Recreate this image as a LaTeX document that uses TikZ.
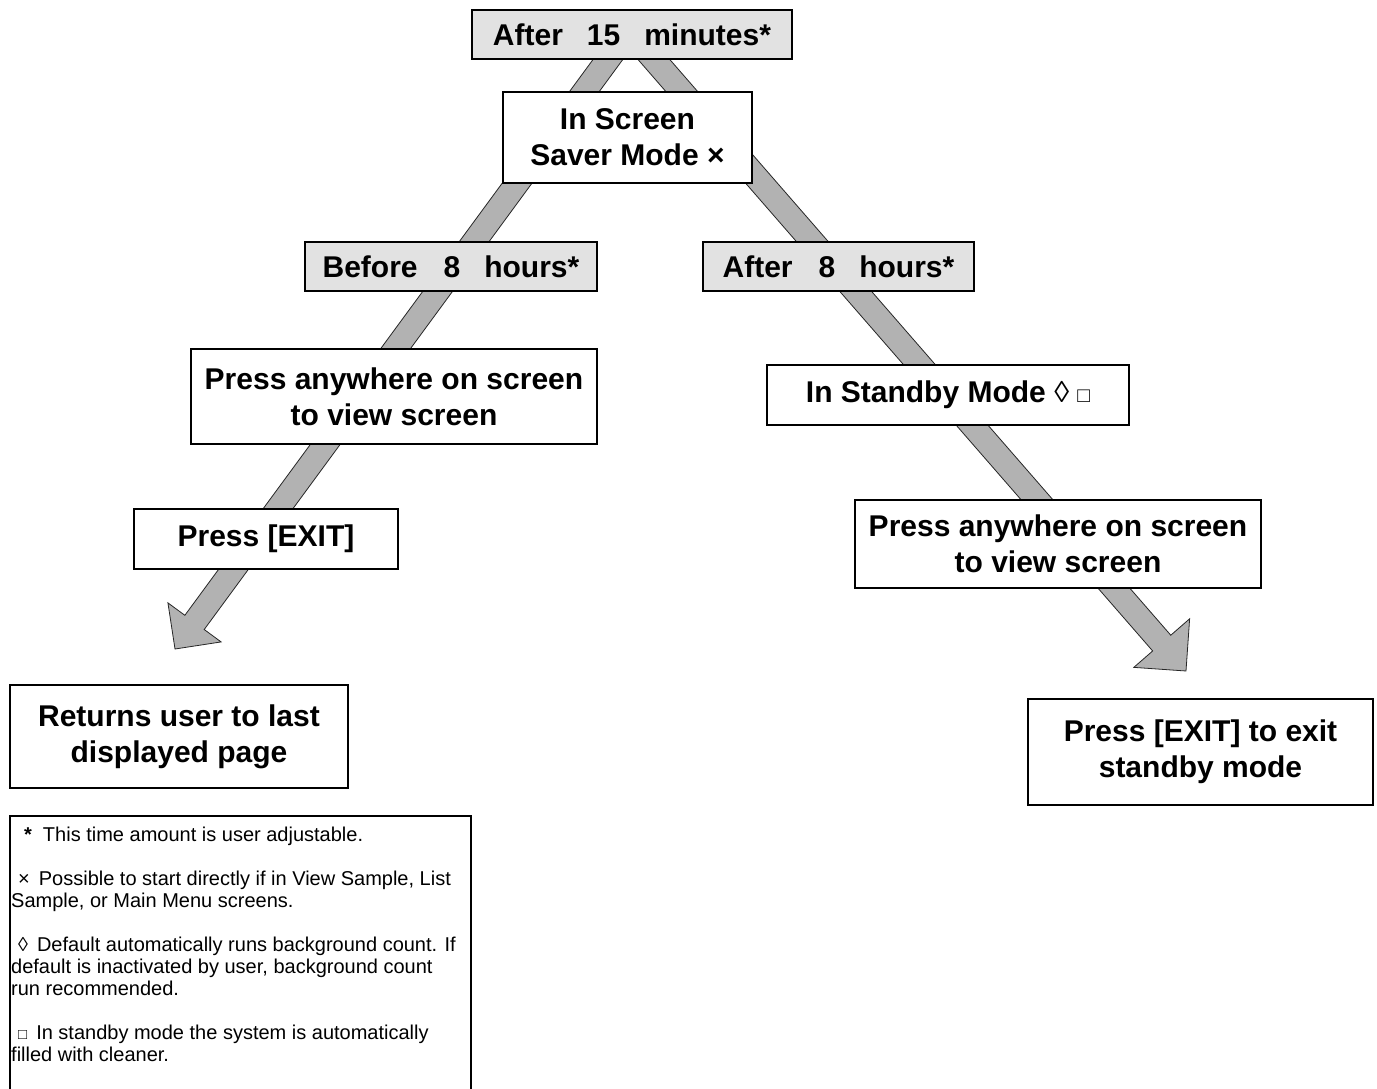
\documentclass[tikz,border=0pt]{standalone}
\usepackage{fontspec}
\setmainfont{Liberation Sans}
\usetikzlibrary{calc}
\definecolor{boxgray}{RGB}{226,226,226}
\definecolor{arrowgray}{RGB}{178,178,178}
\tikzset{
  flowbox/.style={draw=black, line width=1.2pt, fill=white, align=center,
    font=\bfseries\fontsize{30}{36}\selectfont, inner sep=0pt},
  timebox/.style={flowbox, fill=boxgray},
  blockarrow/.style={draw=black!85, line width=0.8pt, fill=arrowgray, line join=miter},
  legendline/.style={draw=black, line width=1.2pt}
}
% #1 start, #2 tip, #3 half shaft width, #4 half head width, #5 head length
\newcommand\drawblockarrow[5]{%
  \coordinate (ba-base) at ($(#2)!#5!(#1)$);
  \draw[blockarrow]
    ($(#1)!#3!90:(#2)$) -- ($(ba-base)!#3!90:(#2)$) -- ($(ba-base)!#4!90:(#2)$)
    -- (#2)
    -- ($(ba-base)!#4!-90:(#2)$) -- ($(ba-base)!#3!-90:(#2)$) -- ($(#1)!#3!-90:(#2)$)
    -- cycle;
}
\begin{document}
\begin{tikzpicture}[x=1pt,y=-1pt]
\useasboundingbox (0,0) rectangle (1377,1089);

% arrow anchors
\coordinate (lstart) at (634,24);
\coordinate (rstart) at (623,24);
\coordinate (ltip) at (175,649);
\coordinate (rtip) at (1186,671);

\drawblockarrow{lstart}{ltip}{12pt}{33pt}{33pt}
\drawblockarrow{rstart}{rtip}{12pt}{37pt}{37pt}

% boxes
\node[timebox, minimum width=320pt, minimum height=49pt] (t15) at (632,34.5)
  {After\hspace{24pt}15\hspace{24pt}minutes*};
\node[flowbox, minimum width=249pt, minimum height=91pt] (saver) at (627.5,137.5)
  {In Screen\\Saver Mode ×};
\node[timebox, minimum width=292pt, minimum height=49pt] (before) at (451,266.5)
  {Before\hspace{26pt}8\hspace{24pt}hours*};
\node[timebox, minimum width=271pt, minimum height=49pt] (after) at (838.5,266.5)
  {After\hspace{26pt}8\hspace{24pt}hours*};
\node[flowbox, minimum width=406pt, minimum height=95pt] (pressL) at (394,396.5)
  {Press anywhere on screen\\to view screen};
\node[flowbox, minimum width=362pt, minimum height=60pt] (standby) at (948,395)
  {In Standby Mode {\mdseries ◊} {\mdseries\fontsize{21}{21}\selectfont □}};
\node[flowbox, minimum width=264pt, minimum height=60pt] (exitL) at (266,539)
  {Press [EXIT]};
\node[flowbox, minimum width=406pt, minimum height=88pt] (pressR) at (1058,544)
  {Press anywhere on screen\\to view screen};
\node[flowbox, minimum width=338pt, minimum height=103pt] (returns) at (179,736.5)
  {Returns user to last\\displayed page};
\node[flowbox, minimum width=345pt, minimum height=106pt] (exitR) at (1200.5,752)
  {Press [EXIT] to exit\\standby mode};

% legend
\draw[legendline] (10,1089) -- (10,816) -- (471,816) -- (471,1089);
\node[anchor=north west, inner sep=0pt, align=left,
      font=\fontsize{20}{22}\selectfont] (legend) at (11,827)
  {\hspace*{13pt}\textbf{*}\hspace*{11pt}This time amount is user adjustable.\\[22pt]
   \hspace*{7pt}×\hspace*{9pt}Possible to start directly if in View Sample, List\\
   Sample, or Main Menu screens.\\[22pt]
   \hspace*{7pt}◊\hspace*{9pt}Default automatically runs background count. If\\
   default is inactivated by user, background count\\
   run recommended.\\[22pt]
   \hspace*{7pt}{\fontsize{15}{15}\selectfont □}\hspace*{9pt}In standby mode the system is automatically\\
   filled with cleaner.};
\end{tikzpicture}
\end{document}
